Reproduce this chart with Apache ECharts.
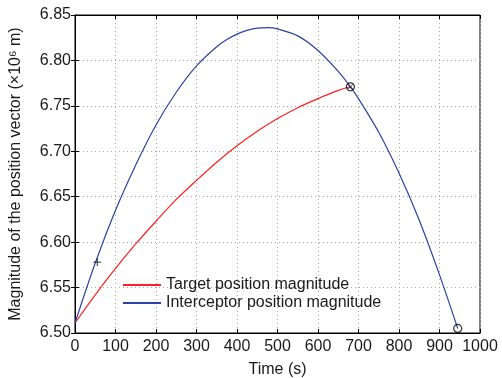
<!DOCTYPE html>
<html>
<head>
<meta charset="utf-8">
<script src="https://cdn.jsdelivr.net/npm/echarts@6/dist/echarts.min.js"></script>
<style>
  html, body { margin: 0; padding: 0; background: #fff; }
  #chart { width: 502px; height: 378px; }
</style>
</head>
<body>
<div id="chart"></div>
<script>
const targetTime = [0, 50, 100, 150, 200, 250, 300, 350, 400, 450, 500, 550, 600, 650, 680];
const targetMag = [6.511, 6.542, 6.571, 6.598, 6.623, 6.647, 6.668, 6.688, 6.706, 6.722, 6.736, 6.748, 6.758, 6.767, 6.771];

const interceptorTime = [0, 50, 100, 150, 200, 250, 300, 350, 375, 400, 425, 450, 475, 500, 550, 600, 650, 680, 700, 750, 800, 850, 900, 945];
const interceptorMag = [6.511, 6.577, 6.635, 6.685, 6.729, 6.765, 6.794, 6.815, 6.823, 6.829, 6.833, 6.8355, 6.836, 6.8347, 6.827, 6.811, 6.788, 6.771, 6.758, 6.721, 6.676, 6.624, 6.564, 6.505];

const launchPoint = [55, 6.578];
const interceptPoint = [680, 6.771];
const endPoint = [945, 6.505];

const xTicks = { min: 0, max: 1000, step: 100 };
const yTicks = { min: 6.5, max: 6.85, step: 0.05 };

const zip = (xs, ys) => xs.map((x, i) => [x, ys[i]]);

const font = "Liberation Sans, Arial, sans-serif";
const textColor = "#1a1a1a";
const gridLine = { show: true, lineStyle: { color: "#aaa", type: [1, 3], width: 1 } };

const chart = echarts.init(document.getElementById("chart"));

chart.setOption({
  animation: false,
  grid: {
    left: 75, right: 22, top: 15, bottom: 45,
    outerBoundsMode: "none",
    containLabel: false,
    show: true, borderColor: "#000", borderWidth: 1,
  },
  legend: {
    left: 118,
    top: 272,
    orient: "vertical",
    itemWidth: 38,
    itemHeight: 2,
    itemGap: 2,
    icon: "rect",
    textStyle: { fontFamily: font, fontSize: 16, color: textColor },
    data: ["Target position magnitude", "Interceptor position magnitude"],
  },
  xAxis: [
    {
      type: "value",
      min: xTicks.min,
      max: xTicks.max,
      interval: xTicks.step,
      name: "Time (s)",
      nameLocation: "middle",
      nameGap: 29,
      nameTextStyle: { fontFamily: font, fontSize: 16, color: textColor },
      axisLine: { lineStyle: { color: "#000" } },
      axisTick: { inside: true, length: 4, lineStyle: { color: "#000" } },
      axisLabel: { fontFamily: font, fontSize: 16, color: textColor, margin: 6, formatter: (v) => String(v) },
      splitLine: gridLine,
    },
    {
      type: "value",
      position: "top",
      min: xTicks.min,
      max: xTicks.max,
      interval: xTicks.step,
      axisLine: { lineStyle: { color: "#000" } },
      axisTick: { inside: true, length: 4, lineStyle: { color: "#000" } },
      axisLabel: { show: false },
      splitLine: { show: false },
    },
  ],
  yAxis: [
    {
      type: "value",
      min: yTicks.min,
      max: yTicks.max,
      interval: yTicks.step,
      name: "Magnitude of the position vector (×10⁶ m)",
      nameLocation: "middle",
      nameGap: 51,
      nameTextStyle: { fontFamily: font, fontSize: 16, color: textColor },
      axisLine: { lineStyle: { color: "#000" } },
      axisTick: { inside: true, length: 4, lineStyle: { color: "#000" } },
      axisLabel: { fontFamily: font, fontSize: 16, color: textColor, margin: 4, formatter: (v) => v.toFixed(2) },
      splitLine: gridLine,
    },
    {
      type: "value",
      position: "right",
      min: yTicks.min,
      max: yTicks.max,
      interval: yTicks.step,
      axisLine: { lineStyle: { color: "#000" } },
      axisTick: { inside: true, length: 4, lineStyle: { color: "#000" } },
      axisLabel: { show: false },
      splitLine: { show: false },
    },
  ],
  series: [
    {
      name: "Target position magnitude",
      type: "line",
      data: zip(targetTime, targetMag),
      smooth: 0.3,
      showSymbol: false,
      itemStyle: { color: "#ff2020" },
      lineStyle: { width: 1.2, color: "#ff2020" },
    },
    {
      name: "Interceptor position magnitude",
      type: "line",
      data: zip(interceptorTime, interceptorMag),
      smooth: 0.3,
      showSymbol: false,
      itemStyle: { color: "#2b43a6" },
      lineStyle: { width: 1.2, color: "#2b43a6" },
    },
    {
      type: "scatter",
      data: [interceptPoint, endPoint],
      symbol: "circle",
      symbolSize: 8,
      itemStyle: { color: "none", borderColor: "#000", borderWidth: 1.2 },
      z: 5,
    },
    {
      type: "scatter",
      data: [interceptPoint],
      symbol: "path://M0,0L10,10M10,0L0,10",
      symbolSize: 5,
      itemStyle: { color: "none", borderColor: "#000", borderWidth: 1 },
      z: 5,
    },
    {
      type: "scatter",
      data: [launchPoint],
      symbol: "path://M5,0L5,10M0,5L10,5",
      symbolSize: 8,
      itemStyle: { color: "none", borderColor: "#000", borderWidth: 1 },
      z: 5,
    },
  ],
});
</script>
</body>
</html>
